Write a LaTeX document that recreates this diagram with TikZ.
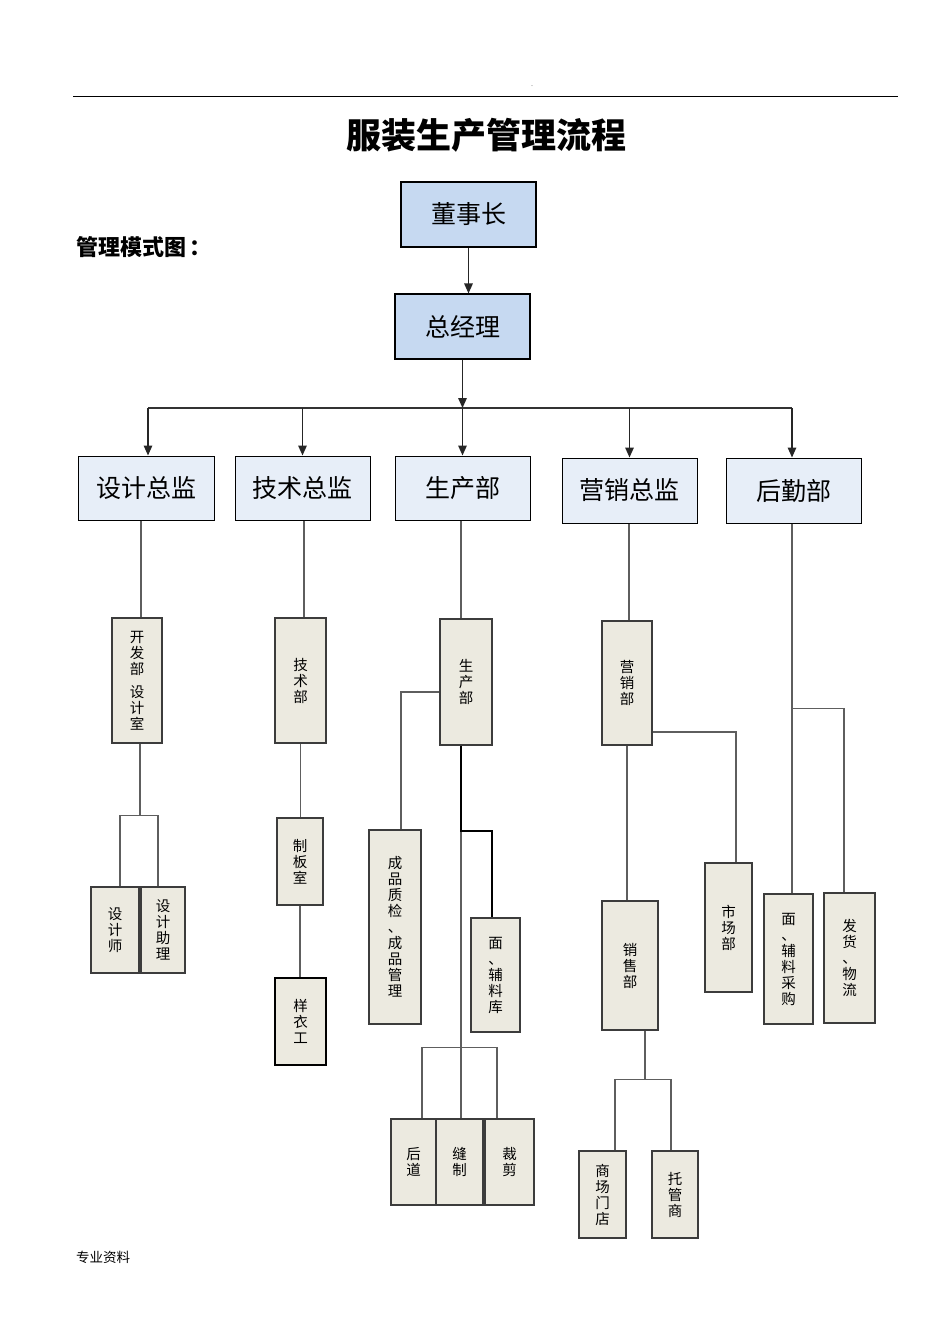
\documentclass[tikz,border=0pt]{standalone}
\usepackage{fontspec}
\setmainfont{Liberation Serif}
\newfontfamily\cjk{Noto Sans CJK SC}
\usetikzlibrary{arrows.meta,calc}
\definecolor{topblue}{HTML}{C6D9F1}
\definecolor{midblue}{HTML}{E7EEF8}
\definecolor{beige}{HTML}{ECEAE0}
\definecolor{boxgray}{HTML}{3C3C3C}
\definecolor{linegray}{HTML}{5E5E5E}
\begin{document}
\begin{tikzpicture}[x=1pt,y=-1pt,
  box/.style={draw=black, line width=1.1pt, inner sep=0pt, font=\cjk\fontsize{25}{28}\selectfont},
  topbox/.style={box, fill=topblue},
  midbox/.style={box, fill=midblue, line width=1pt},
  vbox/.style={draw=boxgray, fill=beige, line width=1.2pt, inner sep=0pt, align=center, font=\cjk\fontsize{14.5}{16}\selectfont},
  conn/.style={draw=linegray, line width=1.4pt},
  thickconn/.style={draw=black, line width=2pt},
  arr/.style={draw=black!85, line width=1.5pt, -{Triangle[length=10pt,width=8.5pt]}}
]
\useasboundingbox[fill=white] (0,0) rectangle (945,1337);

% header
\draw[line width=0.8pt] (73,96) -- (898,96);
\node[font=\fontsize{6}{6}\selectfont, inner sep=0pt] (dot) at (532,86) {.};
\node[font=\cjk\bfseries\fontsize{35}{40}\selectfont, inner sep=0pt] (title) at (486,135) {服装生产管理流程};
\node[font=\cjk\bfseries\fontsize{22}{24}\selectfont, anchor=west, inner sep=0pt] (sub) at (76,247) {管理模式图\hspace{3pt}：};
\node[font=\cjk\fontsize{13.5}{15}\selectfont, anchor=west, inner sep=0pt] (foot) at (76,1257) {专业资料};

% top boxes
\node[topbox, minimum width=135pt, minimum height=65pt] (dsz) at (468.5,214.5) {董事长};
\node[topbox, minimum width=135pt, minimum height=65pt] (zjl) at (462.5,326.5) {总经理};

% second level
\node[midbox, minimum width=136pt, minimum height=64pt] (sjzj) at (146,488) {设计总监};
\node[midbox, minimum width=135pt, minimum height=64pt] (jszj) at (302.5,488) {技术总监};
\node[midbox, minimum width=135pt, minimum height=64pt] (sczj) at (462.5,488) {生产部};
\node[midbox, minimum width=135pt, minimum height=65pt] (yxzj) at (629.5,490.5) {营销总监};
\node[midbox, minimum width=135pt, minimum height=65pt] (hqb) at (793.5,490.5) {后勤部};

% third level and below
\node[vbox, minimum width=50pt, minimum height=125pt] (kfb) at (137,680.5) {开\\发\\部\\[7pt]设\\计\\室};
\node[vbox, minimum width=48pt, minimum height=86pt] (sjs) at (115,930) {设\\计\\师};
\node[vbox, minimum width=44pt, minimum height=86pt] (sjzl) at (163,930) {设\\计\\助\\理};

\node[vbox, minimum width=51pt, minimum height=125pt] (jsb) at (300.5,680.5) {技\\术\\部};
\node[vbox, minimum width=46pt, minimum height=87pt] (zbs) at (300,861.5) {制\\板\\室};
\node[vbox, draw=black, line width=2pt, minimum width=51pt, minimum height=87pt] (yyg) at (300.5,1021.5) {样\\衣\\工};

\node[vbox, minimum width=52pt, minimum height=126pt] (scb) at (466,682) {生\\产\\部};
\node[vbox, minimum width=52pt, minimum height=194pt] (cpzj) at (395,927) {成\\品\\质\\检\\、\\成\\品\\管\\理};
\node[vbox, minimum width=49pt, minimum height=114pt] (flk) at (495.5,975) {面\\、\\辅\\料\\库};
\node[vbox, minimum width=45pt, minimum height=86pt] (hd) at (413.5,1162) {后\\道};
\node[vbox, minimum width=47pt, minimum height=86pt] (fz) at (459.5,1162) {缝\\制};
\node[vbox, minimum width=49pt, minimum height=86pt] (cj) at (509.5,1162) {裁\\剪};

\node[vbox, minimum width=50pt, minimum height=124pt] (yxb) at (627,683) {营\\销\\部};
\node[vbox, minimum width=47pt, minimum height=129pt] (scbu) at (728.5,927.5) {市\\场\\部};
\node[vbox, minimum width=56pt, minimum height=129pt] (xsb) at (630,965.5) {销\\售\\部};
\node[vbox, minimum width=47pt, minimum height=87pt] (scmd) at (602.5,1194.5) {商\\场\\门\\店};
\node[vbox, minimum width=46pt, minimum height=87pt] (tgs) at (675,1194.5) {托\\管\\商};

\node[vbox, minimum width=49pt, minimum height=130pt] (flcg) at (788.5,959) {面\\、\\辅\\料\\采\\购};
\node[vbox, minimum width=51pt, minimum height=130pt] (fhwl) at (849.5,958) {发\\货\\、\\物\\流};

% top connectors
\draw[arr] (dsz.south) -- (dsz.south |- zjl.north);
\coordinate (busL) at (148,408);
\coordinate (busR) at (792,408);
\draw[conn, draw=black!80] (busL) -- (busR);
\draw[arr] (zjl.south) -- (zjl.south |- busL);
\draw[arr] (busL) -- (busL |- sjzj.north);
\draw[arr] (jszj.north |- busL) -- (jszj.north);
\draw[arr] (sczj.north |- busL) -- (sczj.north);
\draw[arr] (yxzj.north |- busL) -- (yxzj.north);
\draw[arr] (busR) -- (busR |- hqb.north);

% column 1
\coordinate (k1) at ($(kfb.north)+(4,0)$);
\draw[conn] (k1 |- sjzj.south) -- (k1);
\coordinate (k2) at ($(kfb.south)+(3,72)$);
\draw[conn] ($(kfb.south)+(3,0)$) -- (k2);
\draw[conn] ($(sjs.north)+(5,0)$) |- (k2) -| ($(sjzl.north)+(-5,0)$);

% column 2
\coordinate (j1) at ($(jsb.north)+(3.5,0)$);
\draw[conn] (j1 |- jszj.south) -- (j1);
\draw[conn] (jsb.south) -- (jsb.south |- zbs.north);
\draw[conn] (zbs.south) -- (zbs.south |- yyg.north);

% column 3
\coordinate (s1) at ($(scb.north)+(-5,0)$);
\draw[conn] (s1 |- sczj.south) -- (s1);
\draw[conn] ($(scb.west)+(0,10)$) -| ($(cpzj.north)+(6,0)$);
\coordinate (s2) at ($(scb.south)+(-5,0)$);
\coordinate (s3) at ($(s2)+(0,85)$);
\coordinate (s4) at ($(s2)+(0,302)$);
\draw[conn] (s3) -- (s4);
\draw[thickconn] (s2) -- (s3) -| ($(flk.north)+(-3.5,0)$);
\draw[conn] ($(hd.north)+(8.5,0)$) |- (s4) -| ($(cj.north)+(-12.5,0)$);
\draw[conn] (s4) -- (s4 |- fz.north);

% column 4
\coordinate (m1) at ($(yxb.north)+(2,0)$);
\draw[conn] (m1 |- yxzj.south) -- (m1);
\draw[conn] ($(yxb.east)+(0,49)$) -| ($(scbu.north)+(7.5,0)$);
\draw[conn] (yxb.south) -- (yxb.south |- xsb.north);
\coordinate (m2) at ($(xsb.south)+(15,0)$);
\coordinate (m3) at ($(m2)+(0,49)$);
\draw[conn] (m2) -- (m3);
\draw[conn] ($(scmd.north)+(12.5,0)$) |- (m3) -| ($(tgs.north)+(-4,0)$);

% column 5
\coordinate (h1) at ($(hqb.south)+(-1.5,0)$);
\draw[conn] (h1) -- (h1 |- flcg.north);
\coordinate (h2) at ($(h1)+(0,185)$);
\draw[conn] (h2) -| ($(fhwl.north)+(-5.5,0)$);
\end{tikzpicture}
\end{document}
